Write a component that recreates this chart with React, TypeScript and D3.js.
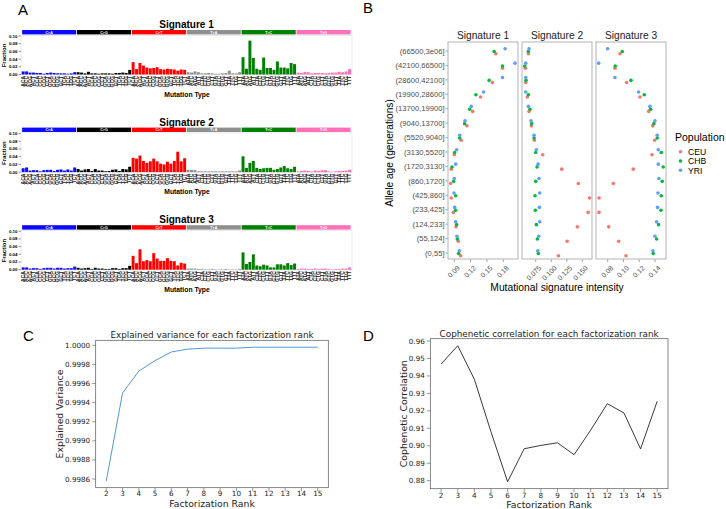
import React from 'react'
import * as d3 from 'd3'

// ---------- Panel A data ----------
const mutationTypes = ['C>A', 'C>G', 'C>T', 'T>A', 'T>C', 'T>G']
const typeColors = ['#0a0aff', '#000000', '#ff0000', '#8f8f8f', '#008000', '#ff70b8']
const bases = ['A', 'C', 'G', 'T']
const contexts = mutationTypes.flatMap((m) => bases.flatMap((a) => bases.map((b) => a + m[0] + b)))
const fractionTicks = [0, 0.02, 0.04, 0.06, 0.08, 0.1]

const signature1 = [
  0.008, 0.008, 0.005, 0.005, 0.004, 0.004, 0.002, 0.004, 0.005, 0.004, 0.003, 0.003, 0.003, 0.002, 0.003, 0.006, // C>A
  0.006, 0.005, 0.003, 0.007, 0.003, 0.003, 0.002, 0.003, 0.003, 0.003, 0.002, 0.004, 0.004, 0.005, 0.004, 0.012, // C>G
  0.032, 0.014, 0.030, 0.023, 0.018, 0.016, 0.017, 0.019, 0.014, 0.013, 0.015, 0.014, 0.013, 0.010, 0.013, 0.012, // C>T
  0.006, 0.005, 0.008, 0.006, 0.003, 0.003, 0.004, 0.003, 0.002, 0.002, 0.003, 0.004, 0.010, 0.003, 0.003, 0.006, // T>A
  0.045, 0.015, 0.088, 0.043, 0.015, 0.012, 0.044, 0.017, 0.017, 0.012, 0.034, 0.018, 0.018, 0.016, 0.030, 0.027, // T>C
  0.005, 0.004, 0.007, 0.006, 0.003, 0.004, 0.004, 0.004, 0.003, 0.004, 0.005, 0.005, 0.007, 0.006, 0.008, 0.014, // T>G
]
const signature2 = [
  0.010, 0.012, 0.004, 0.005, 0.005, 0.002, 0.005, 0.006, 0.006, 0.003, 0.006, 0.007, 0.004, 0.007, 0.004, 0.012, // C>A
  0.008, 0.004, 0.007, 0.008, 0.003, 0.008, 0.004, 0.004, 0.002, 0.003, 0.006, 0.007, 0.003, 0.008, 0.007, 0.014, // C>G
  0.037, 0.035, 0.043, 0.029, 0.024, 0.028, 0.035, 0.028, 0.022, 0.020, 0.027, 0.022, 0.029, 0.053, 0.028, 0.036, // C>T
  0.006, 0.006, 0.005, 0.002, 0.002, 0.002, 0.002, 0.002, 0.002, 0.002, 0.002, 0.002, 0.002, 0.002, 0.002, 0.004, // T>A
  0.041, 0.011, 0.024, 0.029, 0.011, 0.008, 0.010, 0.011, 0.011, 0.006, 0.008, 0.012, 0.016, 0.010, 0.008, 0.014, // T>C
  0.002, 0.003, 0.004, 0.003, 0.002, 0.004, 0.003, 0.005, 0.005, 0.002, 0.001, 0.002, 0.003, 0.003, 0.004, 0.006, // T>G
]
const signature3 = [
  0.006, 0.006, 0.003, 0.004, 0.004, 0.002, 0.004, 0.005, 0.005, 0.003, 0.005, 0.005, 0.003, 0.004, 0.004, 0.008, // C>A
  0.005, 0.003, 0.004, 0.005, 0.002, 0.005, 0.003, 0.003, 0.002, 0.002, 0.004, 0.004, 0.002, 0.004, 0.004, 0.010, // C>G
  0.036, 0.017, 0.053, 0.022, 0.025, 0.022, 0.043, 0.029, 0.023, 0.023, 0.030, 0.023, 0.022, 0.011, 0.018, 0.016, // C>T
  0.003, 0.003, 0.003, 0.002, 0.002, 0.001, 0.001, 0.002, 0.001, 0.001, 0.001, 0.002, 0.001, 0.001, 0.001, 0.002, // T>A
  0.045, 0.015, 0.020, 0.040, 0.011, 0.009, 0.013, 0.011, 0.006, 0.006, 0.014, 0.014, 0.011, 0.017, 0.012, 0.016, // T>C
  0.002, 0.003, 0.003, 0.002, 0.002, 0.003, 0.002, 0.003, 0.003, 0.002, 0.001, 0.002, 0.002, 0.003, 0.003, 0.006, // T>G
]

// ---------- Panel B data (rows top to bottom) ----------
const ageBins = [
  '(66500,3e06]', '(42100,66500]', '(28600,42100]', '(19900,28600]', '(13700,19900]',
  '(9040,13700]', '(5520,9040]', '(3130,5520]', '(1720,3130]', '(860,1720]',
  '(425,860]', '(233,425]', '(124,233]', '(55,124]', '(0,55]',
]
const populations = ['CEU', 'CHB', 'YRI']
const popColors = ['#F8766D', '#00BA38', '#619CFF']

const sig1CEU = [0.1663, 0.1785, 0.160, 0.1383, 0.1237, 0.1132, 0.1028, 0.0900, 0.0845, 0.0834, 0.0845, 0.0882, 0.0932, 0.0973, 0.1017]
const sig1CHB = [0.1632, 0.1785, 0.154, 0.1297, 0.1182, 0.1090, 0.0999, 0.0907, 0.0858, 0.0889, 0.0926, 0.0926, 0.0944, 0.0956, 0.0980]
const sig1YRI = [0.1833, 0.2016, 0.1785, 0.1438, 0.1211, 0.1096, 0.0999, 0.0944, 0.0926, 0.0900, 0.0895, 0.0907, 0.0926, 0.0950, 0.0992]
const sig2CEU = [0.0631, 0.0582, 0.0589, 0.0615, 0.0642, 0.0680, 0.0728, 0.0863, 0.1169, 0.1437, 0.1615, 0.1594, 0.1421, 0.1255, 0.1115]
const sig2CHB = [0.0631, 0.0573, 0.0594, 0.0631, 0.0658, 0.0685, 0.0723, 0.0750, 0.0771, 0.0750, 0.0739, 0.0744, 0.0760, 0.0776, 0.0792]
const sig2YRI = [0.0642, 0.0589, 0.0589, 0.0589, 0.0631, 0.0674, 0.0723, 0.0760, 0.0787, 0.0803, 0.0814, 0.0809, 0.0814, 0.0798, 0.0782]
const sig3CEU = [0.0956, 0.0892, 0.1040, 0.1209, 0.1319, 0.1370, 0.1395, 0.1361, 0.1124, 0.0871, 0.0690, 0.0690, 0.0813, 0.0939, 0.1032]
const sig3CHB = [0.0985, 0.0896, 0.1095, 0.1263, 0.1344, 0.1386, 0.1428, 0.1479, 0.1504, 0.1491, 0.1479, 0.1475, 0.1445, 0.1420, 0.1377]
const sig3YRI = [0.0800, 0.0686, 0.0892, 0.1192, 0.1335, 0.1399, 0.1428, 0.1441, 0.1441, 0.1449, 0.1437, 0.1432, 0.1420, 0.1399, 0.1373]

const facetTicks = [
  [0.09, 0.12, 0.15, 0.18],
  [0.075, 0.1, 0.125, 0.15],
  [0.08, 0.1, 0.12, 0.14],
]
const facetDomains: [number, number][] = [
  [0.0785, 0.207],
  [0.0529, 0.1656],
  [0.0652, 0.1539],
]

// ---------- Panel C / D data ----------
const ranks = [2, 3, 4, 5, 6, 7, 8, 9, 10, 11, 12, 13, 14, 15]
const explainedVariance = [0.99858, 0.9995, 0.99973, 0.99984, 0.99993, 0.99996, 0.99997, 0.99997, 0.99997, 0.99998, 0.99998, 0.99998, 0.99998, 0.99998]
const cophenetic = [0.9468, 0.9573, 0.9381, 0.908, 0.8794, 0.8983, 0.9002, 0.9017, 0.8949, 0.909, 0.9241, 0.9188, 0.8982, 0.9255]
const varianceTicks = [0.9986, 0.9988, 0.999, 0.9992, 0.9994, 0.9996, 0.9998, 1.0]
const copheneticTicks = [0.88, 0.89, 0.9, 0.91, 0.92, 0.93, 0.94, 0.95, 0.96]

const SANS = '"Liberation Sans", Arial, sans-serif'
const DEJAVU = '"DejaVu Sans", sans-serif'

const SignaturePanel = ({ title, values, dy }: { title: string; values: number[]; dy: number }) => {
  // contexts repeat between C>A / C>G etc, so band on index
  const x = d3.scaleBand<number>().domain(d3.range(contexts.length)).range([21.7, 351]).paddingInner(0.14)
  const y = d3.scaleLinear().domain([0, 0.1]).range([74.5, 36])
  const groupW = (351 - 21.7) / 6
  return (
    <g transform={`translate(0,${dy})`} fontFamily={SANS}>
      <text x={186.5} y={28} textAnchor="middle" fontWeight="bold" fontSize={10}>
        {title}
      </text>
      {mutationTypes.map((m, i) => (
        <g key={m}>
          <rect x={21.7 + i * groupW + 0.4} y={30} width={groupW - 0.8} height={4.4} fill={typeColors[i]} />
          <text x={21.7 + (i + 0.5) * groupW} y={33.6} textAnchor="middle" fontSize={3.6} fontWeight="bold" fill="#fff">
            {m}
          </text>
        </g>
      ))}
      <rect x={21} y={35.3} width={331} height={39.5} fill="none" stroke="#dcdcdc" strokeWidth={0.6} />
      {fractionTicks.map((t) => (
        <g key={t}>
          <line x1={18.5} x2={21} y1={y(t)} y2={y(t)} stroke="#000" strokeWidth={0.4} />
          <text x={17.5} y={y(t) + 1.5} textAnchor="end" fontSize={4.4} fontWeight="bold">
            {d3.format('.2f')(t)}
          </text>
        </g>
      ))}
      <text transform="translate(6,55.5) rotate(-90)" textAnchor="middle" fontSize={6} fontWeight="bold">
        Fraction
      </text>
      {values.map((v, i) => (
        <rect
          key={i}
          x={x(i)}
          y={y(v)}
          width={x.bandwidth()}
          height={y(0) - y(v)}
          fill={typeColors[Math.floor(i / 16)]}
        />
      ))}
      {contexts.map((c, i) => (
        <text
          key={i}
          transform={`translate(${(x(i) as number) + x.bandwidth() / 2},76) rotate(-90)`}
          dy="0.35em"
          textAnchor="end"
          fontSize={5}
          fontWeight="bold"
          fill="#222"
        >
          {c}
        </text>
      ))}
      <text x={187} y={96.5} textAnchor="middle" fontSize={6.8} fontWeight="bold">
        Mutation Type
      </text>
    </g>
  )
}

const AgePanel = () => {
  const y = d3.scalePoint<string>().domain(ageBins).range([51, 253])
  const facets = [
    { title: 'Signature 1', x0: 448, series: [sig1CEU, sig1CHB, sig1YRI] },
    { title: 'Signature 2', x0: 522, series: [sig2CEU, sig2CHB, sig2YRI] },
    { title: 'Signature 3', x0: 596, series: [sig3CEU, sig3CHB, sig3YRI] },
  ]
  const offsets = [2.7, 0.5, -2.3]
  return (
    <g fontFamily={SANS}>
      {ageBins.map((b) => (
        <g key={b}>
          <line x1={445.5} x2={448} y1={y(b)} y2={y(b)} stroke="#444" strokeWidth={0.5} />
          <text x={444.5} y={(y(b) as number) + 2.7} textAnchor="end" fontSize={7.6} fill="#4d4d4d">
            {b}
          </text>
        </g>
      ))}
      <text transform="translate(393,153) rotate(-90)" textAnchor="middle" fontSize={10.2} fill="#000">
        Allele age (generations)
      </text>
      {facets.map((f, fi) => {
        const x = d3.scaleLinear().domain(facetDomains[fi]).range([f.x0, f.x0 + 70])
        const fmt = fi === 1 ? d3.format('.3f') : d3.format('.2f')
        return (
          <g key={f.title}>
            <text x={f.x0 + 35} y={38.5} textAnchor="middle" fontSize={10.2} fill="#1a1a1a">
              {f.title}
            </text>
            <rect x={f.x0} y={42} width={70} height={217} fill="none" stroke="#b3b3b3" strokeWidth={1} />
            {f.series.map((vals, pi) =>
              vals.map((v, i) => (
                <circle
                  key={`${pi}-${i}`}
                  cx={x(v)}
                  cy={(y(ageBins[i]) as number) + offsets[pi]}
                  r={1.8}
                  fill={popColors[pi]}
                />
              ))
            )}
            {facetTicks[fi].map((t) => (
              <g key={t}>
                <line x1={x(t)} x2={x(t)} y1={259.5} y2={262} stroke="#444" strokeWidth={0.5} />
                <text
                  transform={`translate(${x(t) + 2.5},265) rotate(-45)`}
                  textAnchor="end"
                  dy="0.7em"
                  fontSize={7}
                  fill="#4d4d4d"
                >
                  {fmt(t)}
                </text>
              </g>
            ))}
          </g>
        )
      })}
      <text x={557} y={291} textAnchor="middle" fontSize={10.3}>
        Mutational signature intensity
      </text>
      <text x={675} y={140.5} fontSize={10.5}>
        Population
      </text>
      {populations.map((p, i) => (
        <g key={p}>
          <circle cx={680.5} cy={151.7 + i * 9.3} r={1.8} fill={popColors[i]} />
          <text x={688} y={155 + i * 9.3} fontSize={8.6}>
            {p}
          </text>
        </g>
      ))}
    </g>
  )
}

interface LinePanelProps {
  title: string
  values: number[]
  ticks: number[]
  tickFormat: string
  yDomain: [number, number]
  frame: { left: number; right: number; top: number; bottom: number }
  yLabel: string
  yLabelX: number
  titleY: number
  xTickY: number
  xLabelY: number
  color: string
}

const LinePanel = (p: LinePanelProps) => {
  const { left, right, top, bottom } = p.frame
  const x = d3.scaleLinear().domain([1.35, 15.65]).range([left, right])
  const y = d3.scaleLinear().domain(p.yDomain).range([bottom, top])
  const line = d3
    .line<number>()
    .x((_, i) => x(ranks[i]))
    .y((d) => y(d))
  const fmt = d3.format(p.tickFormat)
  return (
    <g fontFamily={DEJAVU} fill="#222">
      <text x={(left + right) / 2} y={p.titleY} textAnchor="middle" fontSize={8.8}>
        {p.title}
      </text>
      <path d={line(p.values) as string} fill="none" stroke={p.color} strokeWidth={0.9} />
      <rect x={left} y={top} width={right - left} height={bottom - top} fill="none" stroke="#555" strokeWidth={0.7} />
      {p.ticks.map((t) => (
        <g key={t}>
          <line x1={left - 3.5} x2={left} y1={y(t)} y2={y(t)} stroke="#555" strokeWidth={0.6} />
          <text x={left - 5.5} y={y(t) + 2.5} textAnchor="end" fontSize={7.2}>
            {fmt(t)}
          </text>
        </g>
      ))}
      {ranks.map((r) => (
        <g key={r}>
          <line x1={x(r)} x2={x(r)} y1={bottom} y2={bottom + 3.5} stroke="#555" strokeWidth={0.6} />
          <text x={x(r)} y={p.xTickY} textAnchor="middle" fontSize={7.2}>
            {r}
          </text>
        </g>
      ))}
      <text x={(left + right) / 2} y={p.xLabelY} textAnchor="middle" fontSize={9.3}>
        Factorization Rank
      </text>
      <text transform={`translate(${p.yLabelX},${(top + bottom) / 2}) rotate(-90)`} textAnchor="middle" fontSize={9.3}>
        {p.yLabel}
      </text>
    </g>
  )
}

const App = () => {
  return (
    <svg
      width={726}
      height={509}
      style={{ position: 'absolute', left: 0, top: 0, background: '#fff' }}
    >
      <rect width={726} height={509} fill="#fff" />
      <g fontFamily={SANS} fontSize={15}>
        <text x={18} y={15}>A</text>
        <text x={363} y={13}>B</text>
        <text x={23} y={341}>C</text>
        <text x={363} y={341}>D</text>
      </g>
      <SignaturePanel title="Signature 1" values={signature1} dy={0} />
      <SignaturePanel title="Signature 2" values={signature2} dy={97.6} />
      <SignaturePanel title="Signature 3" values={signature3} dy={195.2} />
      <AgePanel />
      <LinePanel
        title="Explained variance for each factorization rank"
        values={explainedVariance}
        ticks={varianceTicks}
        tickFormat=".4f"
        yDomain={[0.998509, 1.0000524]}
        frame={{ left: 95.7, right: 328.3, top: 340.3, bottom: 487.7 }}
        yLabel="Explained Variance"
        yLabelX={63}
        titleY={338}
        xTickY={496}
        xLabelY={506.5}
        color="#3f8ccc"
      />
      <LinePanel
        title="Cophenetic correlation for each factorization rank"
        values={cophenetic}
        ticks={copheneticTicks}
        tickFormat=".2f"
        yDomain={[0.87542, 0.96132]}
        frame={{ left: 430.3, right: 668, top: 338.7, bottom: 488.7 }}
        yLabel="Cophenetic Correlation"
        yLabelX={407}
        titleY={336.5}
        xTickY={497.5}
        xLabelY={508}
        color="#222"
      />
    </svg>
  )
}

export default App
